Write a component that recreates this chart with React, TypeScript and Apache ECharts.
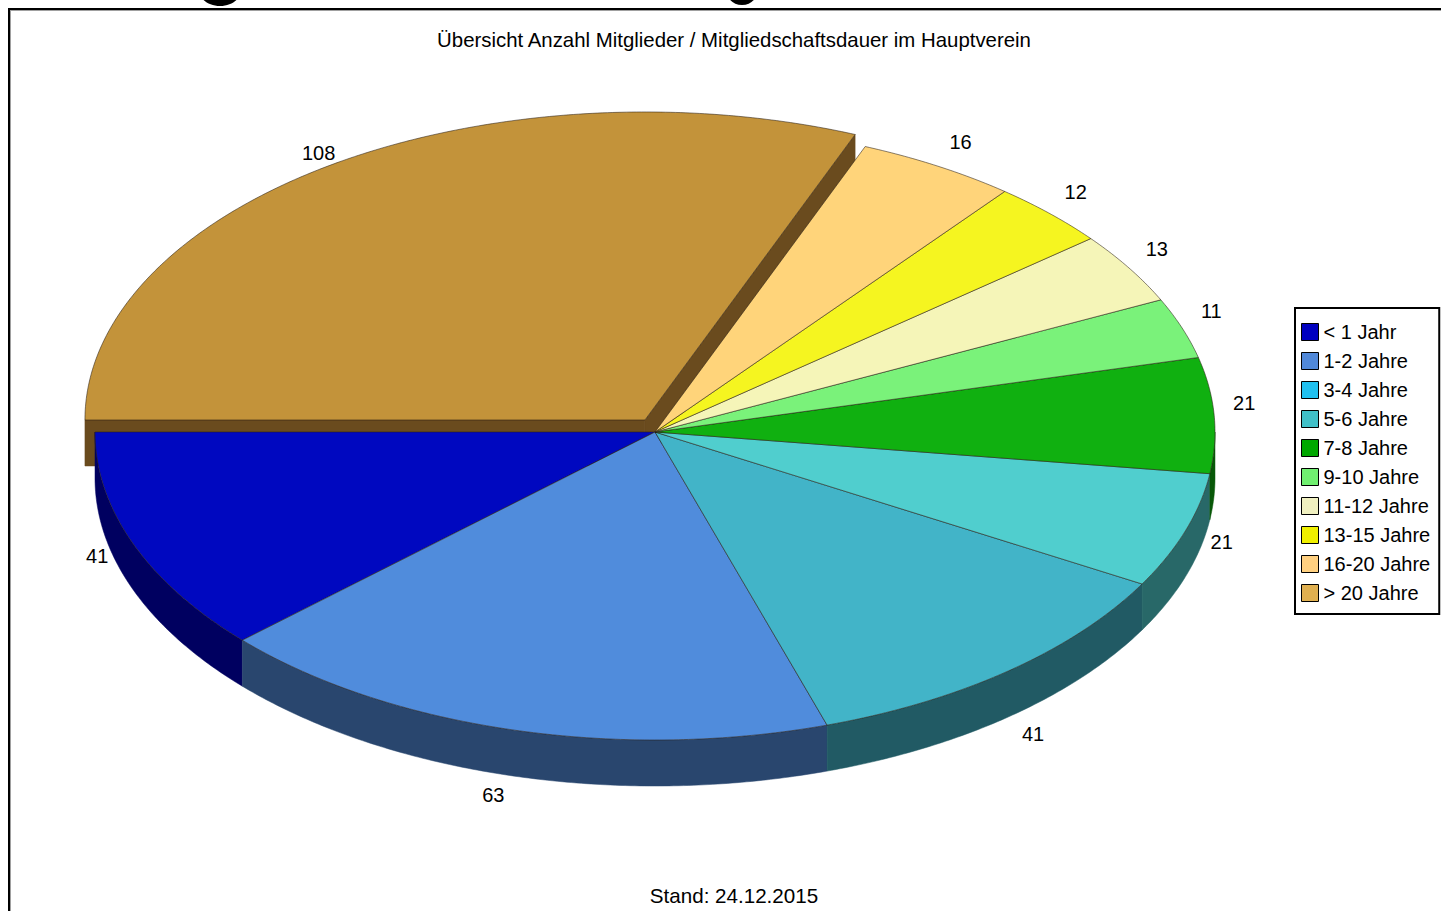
import React, { useEffect, useRef } from 'react';
import * as echarts from 'echarts';

// ---------- data ----------
const categories = ['< 1 Jahr', '1-2 Jahre', '3-4 Jahre', '5-6 Jahre', '7-8 Jahre', '9-10 Jahre', '11-12 Jahre', '13-15 Jahre', '16-20 Jahre', '> 20 Jahre'];
const members = [41, 63, 41, 21, 21, 11, 13, 12, 16, 108];
const explodedIndex = 9;
const titleText = 'Übersicht Anzahl Mitglieder / Mitgliedschaftsdauer im Hauptverein';
const footerText = 'Stand: 24.12.2015';

// ---------- styles ----------
const topColors = ['#0008C0', '#508CDC', '#42B4C8', '#50CECE', '#10B010', '#7AF27A', '#F5F5B8', '#F5F520', '#FFD47A', '#C3933A'];
const sideColors = ['#000060', '#29466E', '#215A64', '#286868', '#085808', '#3C783C', '#7A7A5C', '#7A7A10', '#806A3D', '#6A4B1E'];
const legendColors = ['#0000C0', '#5088D8', '#20C0F0', '#40C0C8', '#00A800', '#70F070', '#F0F0C0', '#F0F000', '#FFD080', '#E0B050'];
const FONT = '"Liberation Sans", Arial, sans-serif';

// ---------- layout ----------
const CX = 655;
const CY = 432;
const RX = 560;
const RY = 308;
const DEPTH = 46;
const START_DEG = 180;

const total = members.reduce((a, b) => a + b, 0);
const startDeg: number[] = [];
const endDeg: number[] = [];
{
  let acc = START_DEG;
  members.forEach((v) => {
    startDeg.push(acc);
    acc += (v / total) * 360;
    endDeg.push(acc);
  });
}

const rad = (d: number) => (d * Math.PI) / 180;

function rim(deg: number, cx: number, cy: number, dz = 0): number[] {
  const t = rad(deg);
  return [cx + RX * Math.cos(t), cy - RY * Math.sin(t) + dz];
}

function arc(a0: number, a1: number, cx: number, cy: number, dz = 0): number[][] {
  const n = Math.max(2, Math.ceil((a1 - a0) / 0.5));
  const pts: number[][] = [];
  for (let i = 0; i <= n; i++) {
    pts.push(rim(a0 + ((a1 - a0) * i) / n, cx, cy, dz));
  }
  return pts;
}

function renderSlice(params: any, api: any) {
  const i = params.dataIndex;
  const a0 = startDeg[i];
  const a1 = endDeg[i];
  const mid = (a0 + a1) / 2;
  const mc = Math.cos(rad(mid));
  const ms = Math.sin(rad(mid));
  let cx = CX;
  let cy = CY;
  const exploded = i === explodedIndex;
  if (exploded) {
    cx += mc * 18;
    cy -= ms * 14.5;
  }
  const children: any[] = [];

  // radial walls for exploded slice
  if (exploded) {
    [a0, a1].forEach((a) => {
      const p = rim(a, cx, cy);
      children.push({
        type: 'polygon',
        z2: 1,
        shape: { points: [[cx, cy], p, [p[0], p[1] + DEPTH], [cx, cy + DEPTH]] },
        style: { fill: sideColors[i], stroke: sideColors[i], lineWidth: 0.5 },
      });
    });
  }

  // curved front wall (angles 180..360 are in front)
  const f0 = Math.max(a0, 180);
  const f1 = Math.min(a1, 360);
  if (f1 > f0) {
    const topPts = arc(f0, f1, cx, cy);
    const botPts = arc(f0, f1, cx, cy, DEPTH).reverse();
    children.push({
      type: 'polygon',
      z2: 2,
      shape: { points: topPts.concat(botPts) },
      style: { fill: sideColors[i], stroke: sideColors[i], lineWidth: 0.5 },
    });
  }

  // top face
  children.push({
    type: 'polygon',
    z2: 5,
    shape: { points: [[cx, cy]].concat(arc(a0, a1, cx, cy)) },
    style: { fill: topColors[i], stroke: 'rgba(40,30,20,0.55)', lineWidth: 1 },
  });

  // label (anchored at the un-exploded rim)
  const anchor = rim(mid, CX, CY);
  let lx = anchor[0] + Math.sign(mc) * 15 + mc * 15;
  let ly: number;
  if (ms >= 0) {
    ly = anchor[1] - (12 + 14 * ms);
  } else {
    const push = Math.min(1, Math.max(0, (-ms - 0.36) * 2.5));
    ly = anchor[1] + 8 + 12 * -ms + DEPTH * push;
    lx += Math.sign(mc) * 7 * (1 - push);
  }
  children.push({
    type: 'text',
    z2: 10,
    style: {
      text: String(api.value(0)),
      x: lx,
      y: ly,
      fill: '#000',
      font: `20px ${FONT}`,
      align: 'center',
      verticalAlign: 'middle',
      textAlign: 'center',
      textVerticalAlign: 'middle',
    },
  });

  return { type: 'group', children };
}

export default function App() {
  const ref = useRef<HTMLDivElement>(null);
  useEffect(() => {
    document.body.style.margin = '0';
    if (!ref.current) return;
    const chart = echarts.init(ref.current, undefined, { renderer: 'svg' });
    const option: any = {
      animation: false,
      backgroundColor: '#fff',
      graphic: [
        { type: 'ellipse', silent: true, shape: { cx: 220, cy: -8, rx: 20, ry: 14 }, style: { fill: '#000' } },
        { type: 'ellipse', silent: true, shape: { cx: 742, cy: -8, rx: 15, ry: 13 }, style: { fill: '#000' } },
        { type: 'rect', silent: true, shape: { x: 9, y: 9, width: 1500, height: 1000 }, style: { fill: 'none', stroke: '#000', lineWidth: 2 } },
        { type: 'line', silent: true, shape: { x1: 10, y1: 10.5, x2: 1441, y2: 10.5 }, style: { stroke: '#a0a0a0', lineWidth: 1 } },
        { type: 'line', silent: true, shape: { x1: 10.5, y1: 10, x2: 10.5, y2: 911 }, style: { stroke: '#a0a0a0', lineWidth: 1 } },
        {
          type: 'text',
          style: {
            text: titleText, x: 734, y: 40, fill: '#000', font: `20.4px ${FONT}`,
            align: 'center', verticalAlign: 'middle', textAlign: 'center', textVerticalAlign: 'middle',
          },
        },
        {
          type: 'text',
          style: {
            text: footerText, x: 734, y: 895, fill: '#000', font: `20.6px ${FONT}`,
            align: 'center', verticalAlign: 'middle', textAlign: 'center', textVerticalAlign: 'middle',
          },
        },
      ],
      legend: {
        orient: 'vertical',
        left: 1295,
        top: 308,
        padding: [14, 9, 11, 6],
        itemWidth: 17,
        itemHeight: 17,
        itemGap: 9,
        icon: 'rect',
        backgroundColor: '#fff',
        borderColor: '#000',
        borderWidth: 2,
        borderRadius: 0,
        itemStyle: { borderColor: '#000', borderWidth: 1 },
        textStyle: { fontSize: 20, fontFamily: FONT, color: '#000', lineHeight: 20 },
        data: categories,
        selectedMode: false,
      },
      series: [
        {
          type: 'custom',
          name: 'Mitglieder',
          coordinateSystem: 'none',
          renderItem: renderSlice,
          data: members,
          silent: true,
        },
        {
          type: 'pie',
          name: 'Legende',
          center: [-500, -500],
          radius: 1,
          silent: true,
          label: { show: false },
          labelLine: { show: false },
          data: categories.map((n, i) => ({ name: n, value: members[i], itemStyle: { color: legendColors[i] } })),
        },
      ],
    };
    chart.setOption(option);
    return () => chart.dispose();
  }, []);
  return <div ref={ref} style={{ width: 1441, height: 911 }} />;
}
